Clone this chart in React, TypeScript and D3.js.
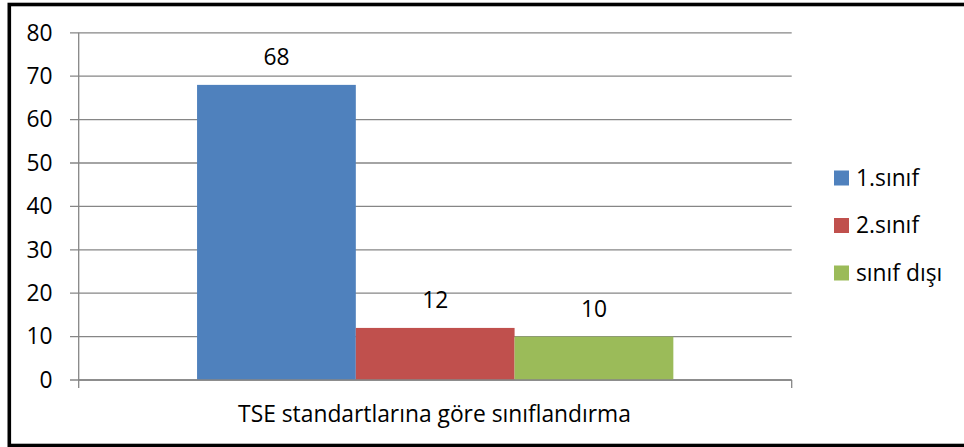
import React from "react";
import * as d3 from "d3";

const categories = ["TSE standartlarına göre sınıflandırma"];
const seriesNames = ["1.sınıf", "2.sınıf", "sınıf dışı"];
const seriesValues = [68, 12, 10];
const seriesColors = ["#4F81BD", "#C0504D", "#9BBB59"];
const yTicks = [0, 10, 20, 30, 40, 50, 60, 70, 80];

const W = 964;
const H = 447;
const FONT = "'Open Sans', 'Noto Sans', sans-serif";
const FS = 22.8;

export default function App() {
  const left = 78.7;
  const right = 791.7;
  const top = 32.8;
  const bottom = 380;

  const y = d3.scaleLinear().domain([0, 80]).range([bottom, top]);
  const xCat = d3.scaleBand().domain(categories).range([left, right]).paddingInner(0).paddingOuter(0);
  const bw = xCat.bandwidth();
  const groupW = bw * 0.668;
  const xSeries = d3
    .scaleBand()
    .domain(seriesNames)
    .range([xCat(categories[0])! + (bw - groupW) / 2, xCat(categories[0])! + (bw + groupW) / 2]);

  const grid = "#868686";

  return (
    <svg
      width={W}
      height={H}
      style={{ position: "absolute", left: 0, top: 0, background: "#fff" }}
      fontFamily={FONT}
    >
      <rect x={9.3} y={4.5} width={W} height={441} fill="#fff" stroke="#000" strokeWidth={3.6} />
      {yTicks.map((t) => (
        <g key={t}>
          <line x1={70} x2={right} y1={y(t)} y2={y(t)} stroke={grid} strokeWidth={1.3} />
          <text x={52.5} y={y(t)} dy="0.34em" textAnchor="end" fontSize={FS} fill="#000">
            {t}
          </text>
        </g>
      ))}
      <line x1={left} x2={left} y1={top} y2={bottom + 8} stroke={grid} strokeWidth={1.3} />
      <line x1={right} x2={right} y1={bottom} y2={bottom + 8} stroke={grid} strokeWidth={1.3} />
      {seriesNames.map((s, i) => (
        <g key={s}>
          <rect
            x={xSeries(s)!}
            y={y(seriesValues[i])}
            width={xSeries.bandwidth()}
            height={bottom - y(seriesValues[i])}
            fill={seriesColors[i]}
          />
          <text
            x={xSeries(s)! + xSeries.bandwidth() / 2}
            y={y(seriesValues[i]) - 20}
            textAnchor="middle"
            fontSize={FS}
            fill="#000"
          >
            {seriesValues[i]}
          </text>
        </g>
      ))}
      <line x1={left} x2={right} y1={bottom} y2={bottom} stroke={grid} strokeWidth={1.3} />
      <text x={434.5} y={421.5} textAnchor="middle" fontSize={FS} fill="#000">
        {categories[0]}
      </text>
      {seriesNames.map((s, i) => (
        <g key={s} transform={`translate(834, ${178 + i * 47.5})`}>
          <rect x={0} y={-7.5} width={15} height={15} fill={seriesColors[i]} />
          <text x={22} y={0} dy="0.34em" fontSize={FS} fill="#000">
            {s}
          </text>
        </g>
      ))}
    </svg>
  );
}
